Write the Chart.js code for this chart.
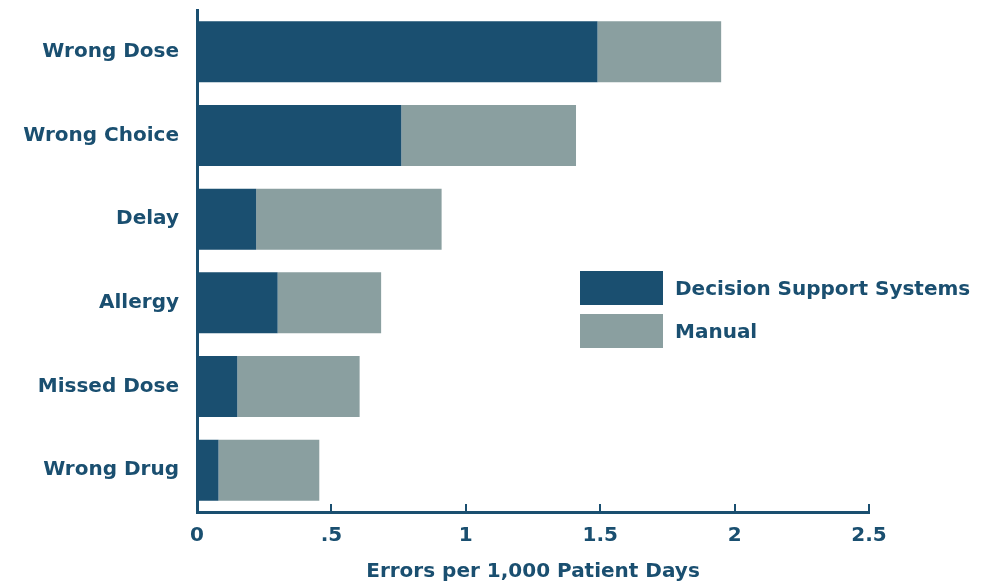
<!DOCTYPE html>
<html>
<head>
<meta charset="utf-8">
<title>Medication Errors per 1,000 Patient Days</title>
<script src="https://cdn.jsdelivr.net/npm/chart.js@4.4.1/dist/chart.umd.min.js"></script>
<style>
  html, body { margin: 0; padding: 0; background: #ffffff; }
  #wrap { width: 982px; height: 584px; position: relative; }
</style>
</head>
<body>
<div id="wrap"><canvas id="chart" width="982" height="584"></canvas></div>
<script>
// Error categories, top to bottom
const categories = ['Wrong Dose', 'Wrong Choice', 'Delay', 'Allergy', 'Missed Dose', 'Wrong Drug'];
// Errors per 1,000 patient days
const decisionSupport = [1.49, 0.76, 0.22, 0.30, 0.15, 0.08];
const manual = [0.46, 0.65, 0.69, 0.385, 0.455, 0.375];
// Axis tick labels
const tickValues = [0, 0.5, 1, 1.5, 2, 2.5];
const tickLabels = ['0', '.5', '1', '1.5', '2', '2.5'];
const seriesNames = ['Decision Support Systems', 'Manual'];

const DARK = '#1a4f70';
const GREY = '#8a9fa0';
const FONT = '"DejaVu Sans", Lato, sans-serif';
const WEIGHT = 'bold';
const SIZE = 20;

// Short upward tick marks sitting on the x axis line
const upTicks = {
  id: 'upTicks',
  afterDraw(chart) {
    const x = chart.scales.x, ctx = chart.ctx, area = chart.chartArea;
    ctx.save();
    ctx.strokeStyle = DARK;
    ctx.lineWidth = 2;
    tickValues.forEach(v => {
      if (v === 0) return;
      const px = Math.round(x.getPixelForValue(v));
      ctx.beginPath();
      ctx.moveTo(px, area.bottom + 1);
      ctx.lineTo(px, area.bottom - 8);
      ctx.stroke();
    });
    ctx.restore();
  }
};

// Legend drawn inside the plot: large swatches with labels to their right
const boxLegend = {
  id: 'boxLegend',
  afterDraw(chart) {
    const ctx = chart.ctx;
    ctx.save();
    const x0 = 580, w = 83, h = 34;
    const rows = [271, 314];
    chart.data.datasets.forEach((ds, i) => {
      ctx.fillStyle = ds.backgroundColor;
      ctx.fillRect(x0, rows[i], w, h);
      ctx.fillStyle = DARK;
      ctx.font = WEIGHT + ' ' + SIZE + 'px ' + FONT;
      ctx.textBaseline = 'middle';
      ctx.textAlign = 'left';
      ctx.fillText(ds.label, x0 + w + 12, rows[i] + h / 2 + 2);
    });
    ctx.restore();
  }
};

new Chart(document.getElementById('chart'), {
  type: 'bar',
  data: {
    labels: categories,
    datasets: [
      { label: seriesNames[0], data: decisionSupport, backgroundColor: DARK, borderWidth: 0,
        barPercentage: 0.73, categoryPercentage: 1.0 },
      { label: seriesNames[1], data: manual, backgroundColor: GREY, borderWidth: 0,
        barPercentage: 0.73, categoryPercentage: 1.0 }
    ]
  },
  options: {
    indexAxis: 'y',
    responsive: false,
    animation: false,
    layout: { padding: { top: 10, right: 113, bottom: 0, left: 0 } },
    plugins: {
      legend: { display: false },
      tooltip: { enabled: false }
    },
    scales: {
      x: {
        stacked: true,
        min: 0,
        max: 2.5,
        afterBuildTicks(scale) {
          scale.ticks = tickValues.map(v => ({ value: v }));
        },
        ticks: {
          color: DARK,
          font: { family: FONT, size: SIZE, weight: WEIGHT },
          padding: 12,
          maxRotation: 0,
          callback(value) {
            const i = tickValues.indexOf(value);
            return i >= 0 ? tickLabels[i] : '';
          }
        },
        grid: { display: false, drawTicks: false },
        border: { display: true, color: DARK, width: 3 },
        title: {
          display: true,
          text: 'Errors per 1,000 Patient Days',
          color: DARK,
          font: { family: FONT, size: SIZE, weight: WEIGHT },
          padding: { top: 13, bottom: 0 }
        },
        afterFit(scale) {
          scale.height = 72;
          scale.paddingLeft = 0;
          scale.paddingRight = 0;
        }
      },
      y: {
        stacked: true,
        ticks: {
          color: DARK,
          font: { family: FONT, size: SIZE, weight: WEIGHT },
          padding: 18
        },
        grid: { display: false, drawTicks: false },
        border: { display: true, color: DARK, width: 3 },
        afterFit(scale) {
          scale.width = 197;
          scale.paddingTop = 0;
          scale.paddingBottom = 0;
        }
      }
    }
  },
  plugins: [upTicks, boxLegend]
});
</script>
</body>
</html>
